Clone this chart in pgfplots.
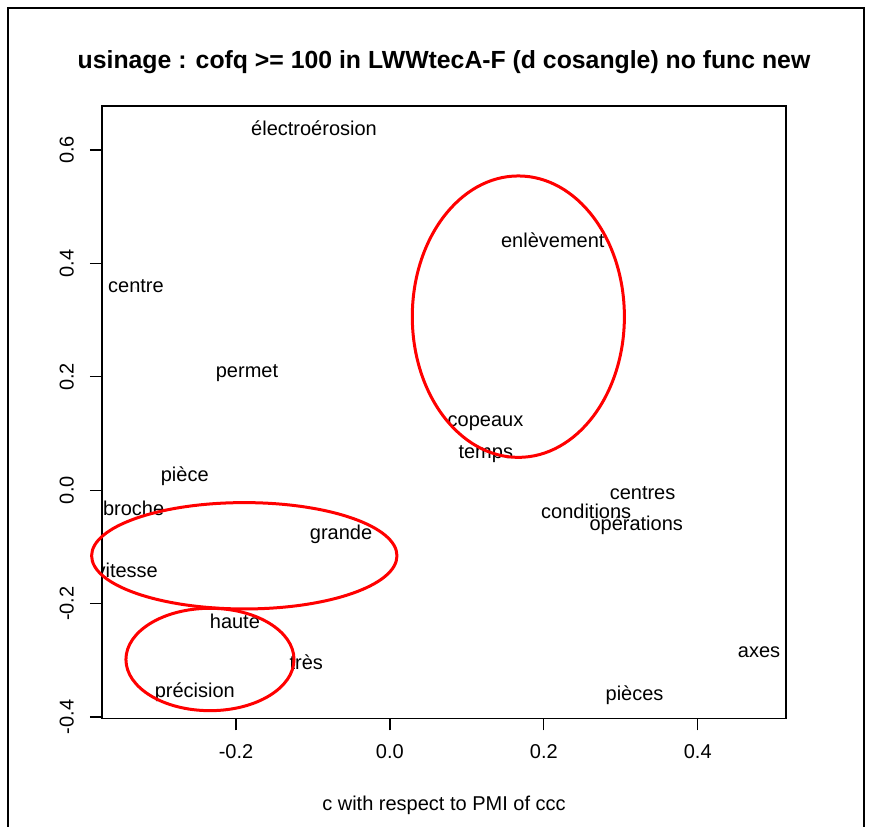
\documentclass[border=0pt]{standalone}
\usepackage{fontspec}
\setmainfont{Liberation Sans}
\usepackage{pgfplots}
\pgfplotsset{compat=1.18}
\usepackage{pgfplotstable}
\newcommand{\lab}{\fontsize{20}{24}\selectfont}
\newcommand{\ttl}{\fontsize{24.8}{30}\selectfont\bfseries}
\pgfplotstableread[col sep=comma]{
x,y,label
-0.0986,0.6336,électroérosion
0.2117,0.4375,enlèvement
-0.3300,0.3567,centre
-0.1857,0.2069,permet
0.1242,0.1215,copeaux
0.1246,0.0656,temps
-0.2666,0.0250,pièce
0.3283,-0.0071,centres
-0.3330,-0.0350,broche
0.2551,-0.0411,conditions
0.3201,-0.0623,opérations
-0.0635,-0.0783,grande
-0.3420,-0.1450,vitesse
-0.2014,-0.2360,haute
-0.1086,-0.3080,très
-0.2535,-0.3560,précision
0.4797,-0.2857,axes
0.3179,-0.3630,pièces
}\words
\pgfplotsset{
  common/.style={
    at={(102pt,108.5pt)}, anchor=south west,
    scale only axis, width=684pt, height=612.5pt,
    xmin=-0.3741, xmax=0.5147, ymin=-0.4027, ymax=0.6777,
  }
}
\begin{document}
\begin{tikzpicture}
\useasboundingbox (0,0) rectangle (871pt,827pt);
\draw[line width=2pt] (8pt,0pt) -- (8pt,819pt) -- (864pt,819pt) -- (864pt,0pt);
\begin{axis}[
  common,
  axis line style={line width=1.3pt},
  tick style={line width=1.3pt, black},
  tick align=outside, major tick length=12pt,
  tick pos=left,
  xtick={-0.2,0,0.2,0.4}, xticklabels={-0.2,0.0,0.2,0.4},
  ytick={-0.4,-0.2,0,0.2,0.4,0.6}, yticklabels={-0.4,-0.2,0.0,0.2,0.4,0.6},
  xticklabel style={font=\lab, inner sep=0pt, anchor=north},
  yticklabel style={font=\lab, inner sep=0pt, rotate=90, anchor=south},
  xticklabel shift=14pt, yticklabel shift=16pt,
  xlabel={c with respect to PMI of ccc},
  xlabel style={font=\lab, at={(axis description cs:0.5,0)}, anchor=base, yshift=-92pt, inner sep=0pt},
  title={usinage : cofq >= 100 in LWWtecA-F (d cosangle) no func new},
  title style={font=\ttl, at={(axis description cs:0.5,1)}, anchor=base, yshift=31pt, inner sep=0pt},
  clip mode=global, clip marker paths=true,
]
\addplot[only marks, mark=*, mark size=0.01pt, mark options={draw=none, fill=none},
  point meta=explicit symbolic,
  nodes near coords={\pgfplotspointmeta},
  nodes near coords align={anchor=base},
  every node near coord/.append style={anchor=base, yshift=-5pt, font=\lab, inner sep=0pt, text=black}]
  table[x=x, y=y, meta=label]{\words};
\end{axis}
\begin{axis}[common, hide axis, clip=false]
% text is clipped to the plot region, as in the reference (the "v" of vitesse)
\fill[white] ([xshift=-14pt]rel axis cs:0,0.212) rectangle ([xshift=-0.7pt]rel axis cs:0,0.268);
\draw[red, line width=3pt] (axis cs:0.1669,0.3061) ellipse [x radius=0.1378, y radius=0.2482];
\draw[red, line width=3pt] (axis cs:-0.1892,-0.1157) ellipse [x radius=0.1984, y radius=0.0938];
\draw[red, line width=3pt] (axis cs:-0.2338,-0.2986) ellipse [x radius=0.1092, y radius=0.0903];
\end{axis}
\end{tikzpicture}
\end{document}
